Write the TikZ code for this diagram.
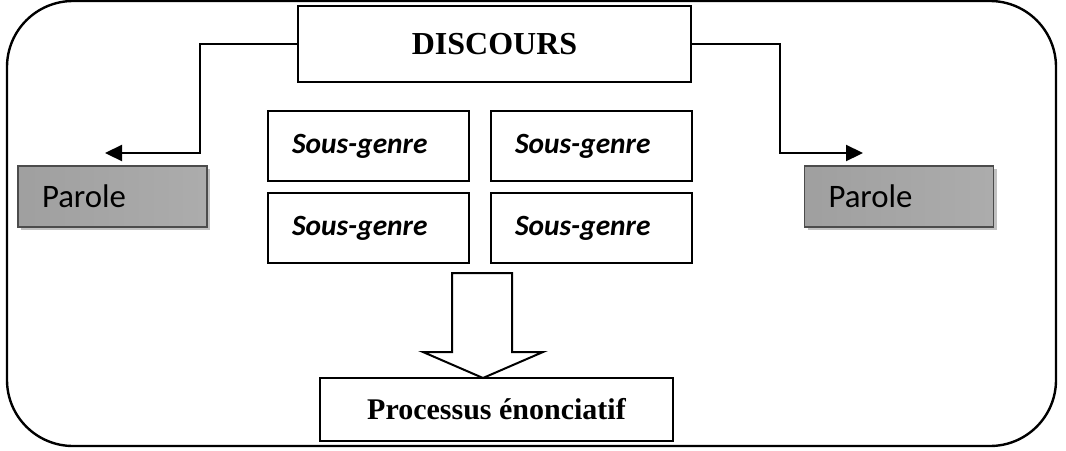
\documentclass[tikz,border=0pt]{standalone}
\usepackage{fontspec}
\setmainfont{Liberation Serif}
\newfontfamily\calibri{Carlito}
\usetikzlibrary{arrows.meta,shadows}

\tikzset{
  boite/.style={draw, line width=1pt, fill=white},
  sousgenre/.style={boite, minimum height=35pt, inner xsep=12pt,
    text width=76.5pt, align=left, font=\calibri\bfseries\itshape\fontsize{14.7}{16}\selectfont},
  parole/.style={draw=gray!60!black, line width=0.6pt, minimum height=30.5pt,
    inner xsep=12pt, text width=70.5pt, align=left,
    left color=gray!75, middle color=gray!8, right color=gray!65,
    drop shadow={shadow xshift=1.5pt, shadow yshift=-1.5pt, fill=gray!60, opacity=0.8},
    font=\calibri\fontsize{16.4}{18}\selectfont},
  fleche/.style={line width=1.1pt, -{Triangle[length=8.5pt,width=8pt]}}
}

\begin{document}
\begin{tikzpicture}[x=0.5pt, y=-0.5pt]

  \useasboundingbox (0,0) rectangle (1066,450);

  % cadre general
  \draw[line width=1.2pt, rounded corners=33pt] (7,1) rectangle (1056,446);

  \node[boite, minimum width=196.5pt, minimum height=38pt,
    font=\bfseries\fontsize{16}{18}\selectfont] (disc) at (494.5,44) {DISCOURS};

  % les quatre sous-genres
  \node[sousgenre] (sg1) at (368.5,146) {Sous-genre};
  \node[sousgenre] (sg2) at (591.5,146) {Sous-genre};
  \node[sousgenre] (sg3) at (368.5,228) {Sous-genre};
  \node[sousgenre] (sg4) at (591.5,228) {Sous-genre};

  \node[parole] (parL) at (112.5,196.5) {Parole};
  \node[parole] (parR) at (899,196.5) {Parole};

  \node[boite, minimum width=176.5pt, minimum height=31.5pt,
    font=\bfseries\fontsize{15}{17}\selectfont] (proc) at (496.5,409.5) {Processus énonciatif};

  % fleches vers la parole
  \coordinate (tipL) at (105,153);
  \coordinate (tipR) at (863,153);
  \draw[fleche] (disc.west) -- (200,44) |- (tipL);
  \draw[fleche] (disc.east) -- (780,44) |- (tipR);

  % grosse fleche creuse
  \coordinate (tip) at (483,378);
  \draw[line width=1pt, fill=white, line join=miter]
    (452,273) -- (512,273) -- (512,352) -- (543,352) -- (tip)
    -- (423,352) -- (452,352) -- cycle;

\end{tikzpicture}
\end{document}
